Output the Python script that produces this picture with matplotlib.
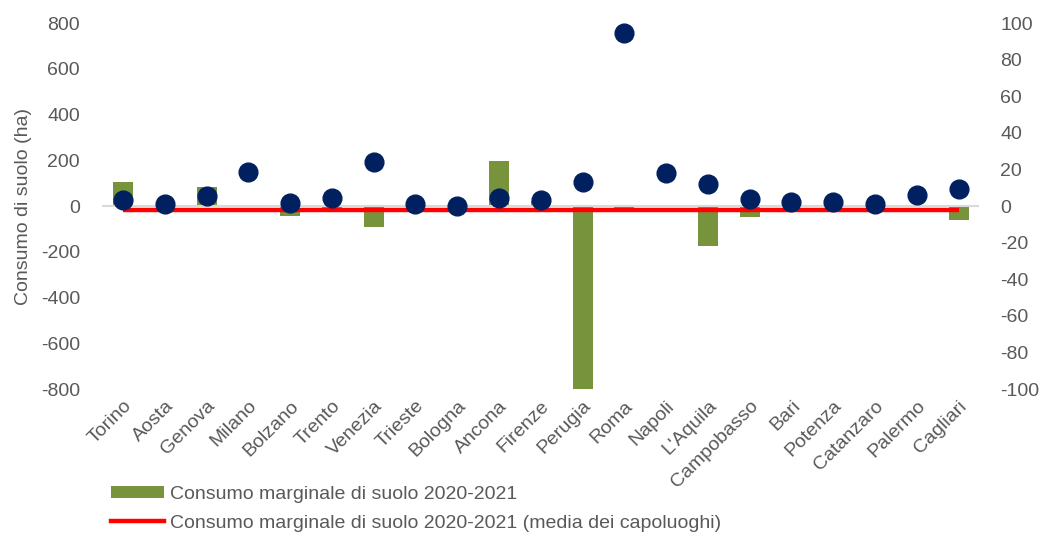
import matplotlib

matplotlib.use("Agg")
import matplotlib.pyplot as plt
import numpy as np
from matplotlib.lines import Line2D
from matplotlib.patches import Patch

GREEN = "#77933C"
NAVY = "#002060"
RED = "#FF0000"
TXT = "#595959"
ZERO = "#D9D9D9"

citta = ["Torino", "Aosta", "Genova", "Milano", "Bolzano", "Trento", "Venezia",
         "Trieste", "Bologna", "Ancona", "Firenze", "Perugia", "Roma", "Napoli",
         "L'Aquila", "Campobasso", "Bari", "Potenza", "Catanzaro", "Palermo",
         "Cagliari"]
# consumo di suolo (ha), asse sinistro
consumo_ha = [26, 9, 44, 150, 14, 34, 191, 9, 2, 34, 26, 104, 758, 143, 98, 32,
              19, 19, 7, 49, 76]
# consumo marginale 2020-2021, asse destro
marginale = [13.0, 0.0, 10.3, 0.3, -5.3, -1.0, -11.4, 0.3, 0.0, 24.9, 2.9,
             -100.0, -1.0, 0.3, -22.0, -6.0, 0.5, -0.5, 0.0, 0.3, -7.7]
media_capoluoghi = -2.2

left_ticks = [-800, -600, -400, -200, 0, 200, 400, 600, 800]
right_ticks = [-100, -80, -60, -40, -20, 0, 20, 40, 60, 80, 100]

plt.rcParams["font.family"] = ["Liberation Sans", "DejaVu Sans"]
plt.rcParams["axes.unicode_minus"] = False

fig = plt.figure(figsize=(10.42, 5.36), dpi=100)
ax = fig.add_axes([0.098, 0.274, 0.842, 0.683])
ax2 = ax.twinx()

x = np.arange(len(citta))

ax2.bar(x, marginale, width=0.48, color=GREEN, zorder=2)
ax2.plot([x[0], x[-1]], [media_capoluoghi] * 2, color=RED, lw=3.2,
         solid_capstyle="butt", zorder=3)

ax.axhline(0, color=ZERO, lw=1.5, zorder=1)
ax.plot(x, consumo_ha, "o", color=NAVY, markersize=13.5, zorder=4)

ax.set_zorder(ax2.get_zorder() + 1)
ax.patch.set_visible(False)

ax.set_xlim(-0.5, len(citta) - 0.5)
ax.set_ylim(-800, 800)
ax2.set_ylim(-100, 100)
ax.set_yticks(left_ticks)
ax2.set_yticks(right_ticks)
ax.set_xticks(x)
ax.set_xticklabels(citta, rotation=45, ha="right", rotation_mode="anchor")

for a in (ax, ax2):
    for s in a.spines.values():
        s.set_visible(False)
    a.tick_params(length=0, labelsize=14, colors=TXT)
ax.tick_params(axis="y", pad=16)
ax2.tick_params(axis="y", pad=15)
ax.tick_params(axis="x", pad=6)

ax.set_ylabel("Consumo di suolo (ha)", fontsize=14, color=TXT)
ax.yaxis.set_label_coords(-0.08, 0.5)

handles = [
    Patch(facecolor=GREEN, edgecolor="none"),
    Line2D([], [], color=RED, lw=3.2),
]
labels = [
    "Consumo marginale di suolo 2020-2021",
    "Consumo marginale di suolo 2020-2021 (media dei capoluoghi)",
]
leg = fig.legend(handles, labels, loc="upper left", bbox_to_anchor=(0.107, 0.093),
                 frameon=False, fontsize=14, handlelength=2.7, handleheight=0.6,
                 handletextpad=0.3, labelspacing=0.6, borderpad=0, borderaxespad=0)
for t in leg.get_texts():
    t.set_color(TXT)

fig.savefig("out.png", dpi=100)
